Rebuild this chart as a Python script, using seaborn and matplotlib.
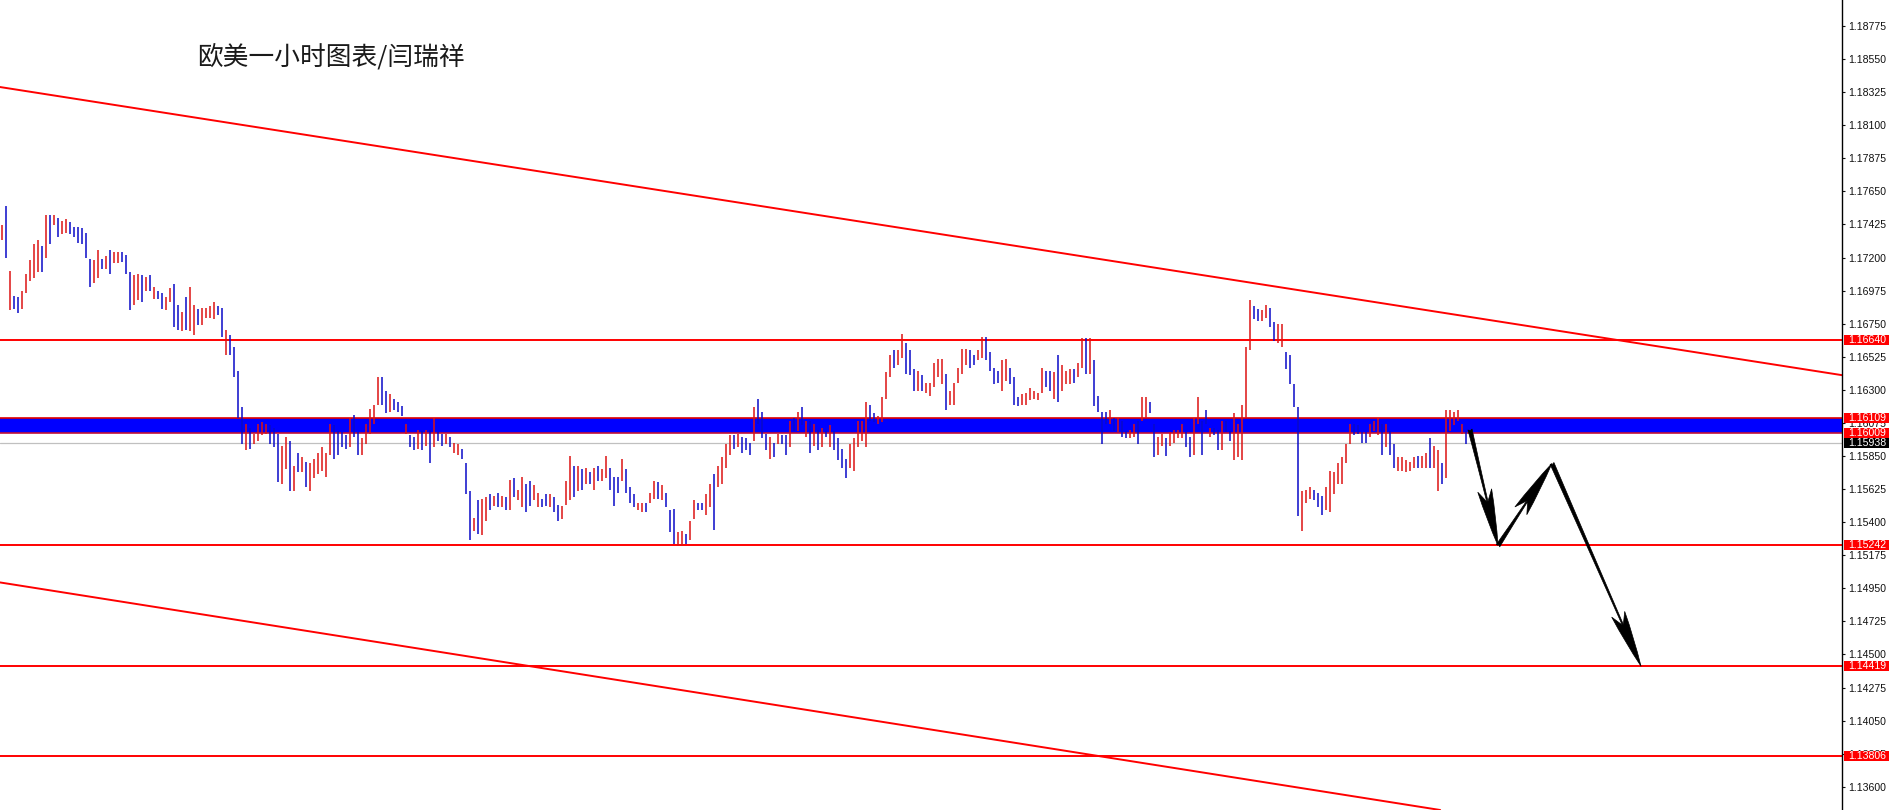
import numpy as np
import seaborn as sns
import matplotlib.pyplot as plt
from matplotlib.patches import Rectangle
from matplotlib.transforms import blended_transform_factory

# hourly EUR/USD bars (high / low), oldest first
highs = [
    1.1742, 1.1755, 1.1711, 1.1694, 1.1693, 1.1697, 1.1709, 1.1718, 1.1729, 1.1732,
    1.1728, 1.1749, 1.1749, 1.1749, 1.1747, 1.1745, 1.1746, 1.1744, 1.1741, 1.1741,
    1.1740, 1.1737, 1.1719, 1.1718, 1.1725, 1.1719, 1.1721, 1.1725, 1.1724, 1.1724,
    1.1724, 1.1722, 1.1710, 1.1708, 1.1709, 1.1708, 1.1707, 1.1708, 1.1700, 1.1697,
    1.1696, 1.1693, 1.1699, 1.1702, 1.1688, 1.1683, 1.1693, 1.1700, 1.1688, 1.1685,
    1.1686, 1.1686, 1.1687, 1.1690, 1.1687, 1.1686, 1.1671, 1.1667, 1.1659, 1.1643,
    1.1618, 1.1607, 1.1604, 1.1600, 1.1607, 1.1608, 1.1607, 1.1606, 1.1604, 1.1600,
    1.1592, 1.1598, 1.1595, 1.1578, 1.1587, 1.1584, 1.1581, 1.1580, 1.1583, 1.1587,
    1.1591, 1.1587, 1.1607, 1.1606, 1.1602, 1.1601, 1.1599, 1.1611, 1.1613, 1.1601,
    1.1597, 1.1607, 1.1617, 1.1620, 1.1639, 1.1639, 1.1629, 1.1627, 1.1624, 1.1622,
    1.1619, 1.1607, 1.1599, 1.1598, 1.1603, 1.1602, 1.1603, 1.1603, 1.1611, 1.1601,
    1.1600, 1.1600, 1.1598, 1.1594, 1.1593, 1.1590, 1.1580, 1.1561, 1.1543, 1.1555,
    1.1556, 1.1557, 1.1559, 1.1558, 1.1560, 1.1558, 1.1557, 1.1569, 1.1570, 1.1562,
    1.1571, 1.1566, 1.1568, 1.1565, 1.1560, 1.1556, 1.1559, 1.1559, 1.1557, 1.1552,
    1.1551, 1.1568, 1.1585, 1.1578, 1.1578, 1.1576, 1.1577, 1.1574, 1.1577, 1.1578,
    1.1576, 1.1585, 1.1577, 1.1571, 1.1571, 1.1583, 1.1576, 1.1564, 1.1559, 1.1553,
    1.1553, 1.1553, 1.1560, 1.1568, 1.1567, 1.1565, 1.1560, 1.1548, 1.1549, 1.1533,
    1.1534, 1.1532, 1.1541, 1.1555, 1.1553, 1.1553, 1.1559, 1.1566, 1.1573, 1.1578,
    1.1584, 1.1593, 1.1599, 1.1599, 1.1600, 1.1598, 1.1597, 1.1594, 1.1618, 1.1624,
    1.1615, 1.1600, 1.1598, 1.1594, 1.1600, 1.1599, 1.1599, 1.1609, 1.1611, 1.1615,
    1.1618, 1.1609, 1.1609, 1.1607, 1.1603, 1.1604, 1.1602, 1.1606, 1.1602, 1.1597,
    1.1590, 1.1583, 1.1593, 1.1597, 1.1609, 1.1609, 1.1622, 1.1620, 1.1614, 1.1612,
    1.1625, 1.1642, 1.1654, 1.1657, 1.1657, 1.1668, 1.1662, 1.1657, 1.1644, 1.1643,
    1.1640, 1.1635, 1.1635, 1.1648, 1.1651, 1.1651, 1.1641, 1.1629, 1.1635, 1.1645,
    1.1658, 1.1658, 1.1657, 1.1654, 1.1657, 1.1666, 1.1666, 1.1656, 1.1645, 1.1643,
    1.1650, 1.1651, 1.1645, 1.1639, 1.1625, 1.1627, 1.1628, 1.1631, 1.1629, 1.1628,
    1.1645, 1.1643, 1.1643, 1.1642, 1.1654, 1.1647, 1.1643, 1.1644, 1.1644, 1.1648,
    1.1665, 1.1665, 1.1665, 1.1650, 1.1626, 1.1615, 1.1615, 1.1616, 1.1611, 1.1611,
    1.1609, 1.1602, 1.1603, 1.1607, 1.1609, 1.1625, 1.1625, 1.1622, 1.1607, 1.1598,
    1.1600, 1.1597, 1.1601, 1.1603, 1.1603, 1.1607, 1.1601, 1.1598, 1.1611, 1.1625,
    1.1609, 1.1616, 1.1604, 1.1604, 1.1603, 1.1609, 1.1609, 1.1602, 1.1614, 1.1607,
    1.1620, 1.1659, 1.1691, 1.1687, 1.1685, 1.1684, 1.1688, 1.1686, 1.1676, 1.1675,
    1.1675, 1.1656, 1.1654, 1.1634, 1.1618, 1.1561, 1.1562, 1.1564, 1.1562, 1.1560,
    1.1558, 1.1564, 1.1575, 1.1574, 1.1580, 1.1584, 1.1593, 1.1607, 1.1607, 1.1606,
    1.1601, 1.1601, 1.1607, 1.1609, 1.1611, 1.1607, 1.1607, 1.1602, 1.1593, 1.1584,
    1.1584, 1.1582, 1.1581, 1.1584, 1.1585, 1.1585, 1.1587, 1.1597, 1.1592, 1.1589,
    1.1580, 1.1616, 1.1616, 1.1615, 1.1616, 1.1607, 1.1602,
]

lows = [
    1.1732, 1.1720, 1.1684, 1.1685, 1.1682, 1.1685, 1.1696, 1.1704, 1.1706, 1.1710,
    1.1710, 1.1720, 1.1729, 1.1742, 1.1734, 1.1736, 1.1737, 1.1736, 1.1734, 1.1730,
    1.1729, 1.1720, 1.1700, 1.1703, 1.1706, 1.1712, 1.1712, 1.1709, 1.1716, 1.1716,
    1.1717, 1.1709, 1.1684, 1.1688, 1.1691, 1.1690, 1.1697, 1.1697, 1.1692, 1.1692,
    1.1685, 1.1684, 1.1690, 1.1673, 1.1671, 1.1670, 1.1671, 1.1670, 1.1667, 1.1674,
    1.1674, 1.1679, 1.1679, 1.1678, 1.1681, 1.1666, 1.1654, 1.1654, 1.1639, 1.1611,
    1.1593, 1.1589, 1.1590, 1.1593, 1.1595, 1.1599, 1.1600, 1.1593, 1.1591, 1.1567,
    1.1566, 1.1576, 1.1561, 1.1561, 1.1574, 1.1574, 1.1564, 1.1561, 1.1570, 1.1573,
    1.1575, 1.1571, 1.1586, 1.1583, 1.1586, 1.1591, 1.1590, 1.1591, 1.1598, 1.1586,
    1.1586, 1.1593, 1.1600, 1.1607, 1.1620, 1.1620, 1.1614, 1.1615, 1.1616, 1.1615,
    1.1612, 1.1600, 1.1591, 1.1589, 1.1590, 1.1589, 1.1592, 1.1580, 1.1591, 1.1595,
    1.1592, 1.1593, 1.1591, 1.1587, 1.1586, 1.1583, 1.1559, 1.1528, 1.1534, 1.1532,
    1.1531, 1.1541, 1.1548, 1.1551, 1.1550, 1.1550, 1.1548, 1.1548, 1.1557, 1.1555,
    1.1550, 1.1547, 1.1551, 1.1555, 1.1550, 1.1550, 1.1551, 1.1550, 1.1547, 1.1541,
    1.1542, 1.1552, 1.1555, 1.1557, 1.1561, 1.1562, 1.1566, 1.1566, 1.1562, 1.1568,
    1.1568, 1.1570, 1.1562, 1.1551, 1.1560, 1.1568, 1.1560, 1.1553, 1.1550, 1.1548,
    1.1547, 1.1547, 1.1553, 1.1556, 1.1556, 1.1555, 1.1550, 1.1533, 1.1525, 1.1524,
    1.1524, 1.1525, 1.1528, 1.1542, 1.1548, 1.1548, 1.1545, 1.1550, 1.1535, 1.1564,
    1.1566, 1.1577, 1.1586, 1.1590, 1.1591, 1.1587, 1.1589, 1.1586, 1.1595, 1.1607,
    1.1597, 1.1589, 1.1583, 1.1584, 1.1593, 1.1593, 1.1586, 1.1591, 1.1602, 1.1602,
    1.1606, 1.1598, 1.1587, 1.1592, 1.1589, 1.1591, 1.1598, 1.1591, 1.1589, 1.1582,
    1.1577, 1.1570, 1.1577, 1.1575, 1.1591, 1.1595, 1.1591, 1.1609, 1.1608, 1.1607,
    1.1608, 1.1624, 1.1639, 1.1645, 1.1647, 1.1652, 1.1641, 1.1640, 1.1629, 1.1629,
    1.1629, 1.1628, 1.1626, 1.1632, 1.1639, 1.1634, 1.1616, 1.1620, 1.1620, 1.1635,
    1.1641, 1.1647, 1.1645, 1.1647, 1.1650, 1.1652, 1.1650, 1.1643, 1.1634, 1.1635,
    1.1629, 1.1636, 1.1634, 1.1620, 1.1619, 1.1620, 1.1620, 1.1623, 1.1624, 1.1623,
    1.1628, 1.1632, 1.1629, 1.1624, 1.1622, 1.1629, 1.1634, 1.1634, 1.1635, 1.1639,
    1.1645, 1.1641, 1.1641, 1.1619, 1.1615, 1.1593, 1.1607, 1.1607, 1.1602, 1.1601,
    1.1598, 1.1597, 1.1597, 1.1598, 1.1593, 1.1609, 1.1611, 1.1614, 1.1584, 1.1586,
    1.1592, 1.1585, 1.1592, 1.1594, 1.1597, 1.1597, 1.1591, 1.1584, 1.1586, 1.1607,
    1.1586, 1.1607, 1.1598, 1.1599, 1.1589, 1.1589, 1.1601, 1.1595, 1.1582, 1.1584,
    1.1582, 1.1611, 1.1657, 1.1678, 1.1677, 1.1677, 1.1679, 1.1673, 1.1663, 1.1662,
    1.1659, 1.1644, 1.1634, 1.1618, 1.1544, 1.1534, 1.1553, 1.1556, 1.1555, 1.1550,
    1.1545, 1.1548, 1.1547, 1.1559, 1.1566, 1.1566, 1.1580, 1.1593, 1.1599, 1.1600,
    1.1594, 1.1594, 1.1598, 1.1602, 1.1599, 1.1586, 1.1591, 1.1586, 1.1577, 1.1575,
    1.1575, 1.1574, 1.1575, 1.1577, 1.1577, 1.1577, 1.1577, 1.1577, 1.1577, 1.1561,
    1.1566, 1.1570, 1.1602, 1.1606, 1.1609, 1.1600, 1.1593,
]

# r = up bar (red), b = down bar (blue)
bar_dirs = (
    "rbrbbrrrrr" "brbrbrrbbb" "bbbrrbrbrr" "bbbrrbrbrb" "brrbbrbrrb"
    "rrrrbbrbbb" "brbrrrrbbb" "rrbrbrbrrr" "rrrbbbbrbb" "rrrrrbbrbb"
    "brbbrbrbrb" "brbrrbbbrb" "rrbrbrbrbr" "rbbrrbbrbb" "rrrbrbrbrb"
    "rrbbbrbbbr" "rbrrbrbbbr" "rbrrbbrrbr" "rrrbrbbbrb" "bbrbrbbrbr"
    "brbrbrbrbb" "bbrrrrrbbr" "rrrbrrbbbr" "brrrrrbrrr" "rrbbrrbbbb"
    "rrbbbrrrrr" "rbbrbrrrbr" "rbrbbbbrbr" "bbrrbrrbbr" "rbrrrrbbrr"
    "bbrbbrbbrr" "rrrbbrrbbr" "rbbbbrrrbb" "brrrrrrrbb" "bbrrrbrbbr"
    "rrrrbrrbrr" "brrrrrb"
)

# horizontal support / resistance levels
red_levels = [1.16640, 1.15242, 1.14419, 1.13806]
band_top, band_bottom = 1.16109, 1.16009
bid_price = 1.15938

# channel lines: two anchor points each (bar index, price)
upper_channel = [(-0.5, 1.1836), (460.0, 1.1640)]
lower_channel = [(-0.5, 1.1499), (360.0, 1.1344)]

# projected path drawn with arrows
path_x = [367.0, 374.0, 387.5, 409.75]
path_y = [1.1603, 1.1524, 1.1580, 1.1442]

price_ticks = [1.18775 - 0.00225 * k for k in range(24)]
title = "欧美一小时图表/闫瑞祥"

UP = "#dc1414"
DOWN = "#0a0ac8"

sns.set_style("white")
plt.rcParams["font.family"] = ["Liberation Sans", "DejaVu Sans"]

fig = plt.figure(figsize=(18.92, 8.10), dpi=100)
ax = fig.add_axes([0, 0, 1842 / 1892, 1])
ax.set_xlim(-0.5, 460)
ax.set_ylim(1.13442, 1.18952)

idx = np.arange(len(highs))
hi = np.array(highs)
lo = np.array(lows)
up = np.array([c == "r" for c in bar_dirs])

# blue zone and its red borders
ax.axhspan(band_bottom, band_top, color="#0000ff", lw=0, zorder=1)
ax.axhline(band_top, color="#e00000", lw=1.2, zorder=2)
ax.axhline(band_bottom, color="#c0103a", lw=1.2, zorder=2)
ax.axhline(bid_price, color="#c0c0c0", lw=0.9, zorder=1)

for lv in red_levels:
    ax.axhline(lv, color="#ff0000", lw=1.4, zorder=2)

ax.axline(upper_channel[0], upper_channel[1], color="#ff0000", lw=1.4, zorder=2)
ax.axline(lower_channel[0], lower_channel[1], color="#ff0000", lw=1.4, zorder=2)

ax.vlines(idx[up], lo[up], hi[up], color=UP, lw=1.1, zorder=3)
ax.vlines(idx[~up], lo[~up], hi[~up], color=DOWN, lw=1.1, zorder=3)

for k in range(len(path_x) - 1):
    ax.annotate(
        "", xy=(path_x[k + 1], path_y[k + 1]), xytext=(path_x[k], path_y[k]),
        arrowprops=dict(arrowstyle="fancy,head_length=3.4,head_width=0.85,tail_width=0.25",
                        fc="black", ec="black", lw=0.5, mutation_scale=12,
                        shrinkA=0, shrinkB=0),
        zorder=4,
    )

# price scale on the right
for s in ["left", "top", "bottom"]:
    ax.spines[s].set_visible(False)
ax.spines["right"].set_color("black")
ax.spines["right"].set_linewidth(1.0)
ax.set_xticks([])
ax.yaxis.tick_right()
ax.set_yticks(price_ticks)
ax.set_yticklabels([f"{p:.5f}" for p in price_ticks])
ax.tick_params(axis="y", direction="out", length=2.5, width=0.8, pad=2,
               labelsize=7.6, colors="#111111")

trans = blended_transform_factory(ax.transAxes, ax.transData)
box_h = 0.00068
for price, color in [(1.16640, "#ff0000"), (band_top, "#ff0000"),
                     (band_bottom, "#ff0000"), (bid_price, "black"),
                     (1.15242, "#ff0000"), (1.14419, "#ff0000"),
                     (1.13806, "#ff0000")]:
    ax.add_patch(Rectangle((1.001, price - box_h / 2), 0.0245, box_h,
                           transform=trans, fc=color, ec="none",
                           clip_on=False, zorder=5))
    ax.text(1.0032, price, f"{price:.5f}", transform=trans, color="white",
            fontsize=7.6, va="center", ha="left", zorder=6, clip_on=False)

fig.text(197 / 1892, 1 - 57 / 810, title, fontsize=18.5, color="#1a1a1a",
         va="center", ha="left", family=["Noto Sans CJK SC", "DejaVu Sans"])

fig.savefig("out.png", dpi=100)
